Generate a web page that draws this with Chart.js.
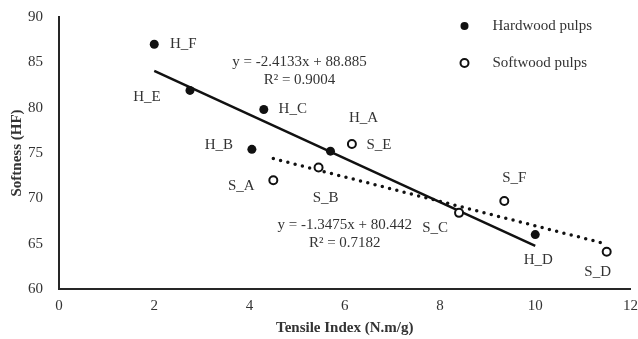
<!DOCTYPE html>
<html>
<head>
<meta charset="utf-8">
<script src="https://cdn.jsdelivr.net/npm/chart.js@4.4.1/dist/chart.umd.min.js"></script>
<style>
  body { margin: 0; background: #fff; }
  #wrap { width: 638px; height: 339px; }
</style>
</head>
<body>
<div id="wrap"><canvas id="chart"></canvas></div>
<script>
// hardwood pulps
const hardLabels = ['H_F', 'H_E', 'H_C', 'H_B', 'H_A', 'H_D'];
const hardTensile = [2.0, 2.75, 4.3, 4.05, 5.7, 10.0];
const hardSoftness = [87.0, 81.9, 79.8, 75.4, 75.2, 66.0];

// softwood pulps
const softLabels = ['S_A', 'S_B', 'S_C', 'S_D', 'S_E', 'S_F'];
const softTensile = [4.5, 5.45, 8.4, 11.5, 6.15, 9.35];
const softSoftness = [72.0, 73.4, 68.4, 64.1, 76.0, 69.7];

// trend lines (end points of the fitted lines)
const hardTrendX = [2, 10];
const hardTrendY = [84.06, 64.75];
const softTrendX = [4.5, 11.5];
const softTrendY = [74.38, 64.95];

const hardEquation = ['y = -2.4133x + 88.885', 'R\u00b2 = 0.9004'];
const softEquation = ['y = -1.3475x + 80.442', 'R\u00b2 = 0.7182'];

const xTickStep = 2;
const yTickStep = 5;

// label offsets in px from each point
const hardLabelOffsets = [[29, 0], [-43, 7], [29, 0], [-33, -4], [33, -33], [3, 25]];
const softLabelOffsets = [[-32, 6], [7, 31], [-24, 15], [-9, 20], [27, 1], [10, -23]];

const FONT = "'Liberation Serif', 'Times New Roman', serif";
const TEXT = '#333';

const toPoints = (xs, ys) => xs.map((x, i) => ({ x: x, y: ys[i] }));

const textPlugin = {
    id: 'texts',
    afterDatasetsDraw(chart) {
        const ctx = chart.ctx;
        const xs = chart.scales.x, ys = chart.scales.y;
        ctx.save();
        ctx.font = '15px ' + FONT;
        ctx.fillStyle = TEXT;
        ctx.textAlign = 'center';
        ctx.textBaseline = 'middle';

        // point labels
        const drawLabels = (labels, tx, ty, offs) => {
            labels.forEach((lab, i) => {
                const px = xs.getPixelForValue(tx[i]);
                const py = ys.getPixelForValue(ty[i]);
                ctx.fillText(lab, px + offs[i][0], py + offs[i][1]);
            });
        };
        drawLabels(hardLabels, hardTensile, hardSoftness, hardLabelOffsets);
        drawLabels(softLabels, softTensile, softSoftness, softLabelOffsets);

        // equations
        const drawEq = (lines, x, y) => {
            const px = xs.getPixelForValue(x);
            const py = ys.getPixelForValue(y);
            lines.forEach((l, i) => ctx.fillText(l, px, py + i * 18));
        };
        drawEq(hardEquation, 5.05, 85.0);
        drawEq(softEquation, 6.0, 67.0);

        // legend
        const lx = chart.chartArea.right - 166;
        const rows = [
            { label: 'Hardwood pulps', y: 26, filled: true },
            { label: 'Softwood pulps', y: 63, filled: false }
        ];
        ctx.textAlign = 'left';
        rows.forEach(r => {
            ctx.beginPath();
            ctx.arc(lx, r.y, 4, 0, Math.PI * 2);
            if (r.filled) {
                ctx.fillStyle = '#111';
                ctx.fill();
            } else {
                ctx.fillStyle = '#fff';
                ctx.fill();
                ctx.lineWidth = 2;
                ctx.strokeStyle = '#111';
                ctx.stroke();
            }
            ctx.fillStyle = TEXT;
            ctx.fillText(r.label, lx + 28, r.y);
        });
        ctx.restore();
    }
};

const ctx = document.getElementById('chart').getContext('2d');
new Chart(ctx, {
    type: 'scatter',
    data: {
        datasets: [
            {
                label: 'Hardwood pulps',
                data: toPoints(hardTensile, hardSoftness),
                pointRadius: 4.5,
                pointBackgroundColor: '#111',
                pointBorderColor: '#111',
                pointBorderWidth: 0,
                order: 0
            },
            {
                label: 'Softwood pulps',
                data: toPoints(softTensile, softSoftness),
                pointRadius: 4,
                pointBackgroundColor: '#fff',
                pointBorderColor: '#111',
                pointBorderWidth: 2,
                order: 0
            },
            {
                type: 'line',
                label: 'Hardwood trend',
                data: toPoints(hardTrendX, hardTrendY),
                borderColor: '#111',
                borderWidth: 2.5,
                pointRadius: 0,
                fill: false,
                order: 1
            },
            {
                type: 'line',
                label: 'Softwood trend',
                data: toPoints(softTrendX, softTrendY),
                borderColor: '#111',
                borderWidth: 3.5,
                borderDash: [0, 7.5],
                borderCapStyle: 'round',
                pointRadius: 0,
                fill: false,
                order: 1
            }
        ]
    },
    options: {
        responsive: true,
        maintainAspectRatio: false,
        animation: false,
        events: [],
        layout: { padding: { left: 8, right: 2, top: 17, bottom: 2 } },
        plugins: {
            legend: { display: false },
            tooltip: { enabled: false }
        },
        scales: {
            x: {
                type: 'linear',
                min: 0,
                max: 12,
                ticks: { stepSize: xTickStep, color: TEXT, font: { family: FONT, size: 15 }, padding: 0 },
                grid: { display: false },
                border: { display: true, color: '#262626', width: 2 },
                title: {
                    display: true,
                    text: 'Tensile Index (N.m/g)',
                    color: TEXT,
                    font: { family: FONT, size: 15, weight: 'bold' },
                    padding: { top: 4, bottom: 0 }
                },
                afterFit(scale) { scale.height = 48; }
            },
            y: {
                min: 60,
                max: 90,
                ticks: { stepSize: yTickStep, color: TEXT, font: { family: FONT, size: 15 }, padding: 8 },
                grid: { display: false },
                border: { display: true, color: '#262626', width: 2 },
                title: {
                    display: true,
                    text: 'Softness (HF)',
                    color: TEXT,
                    font: { family: FONT, size: 15, weight: 'bold' },
                    padding: 0
                },
                afterFit(scale) { scale.width = 51; }
            }
        }
    },
    plugins: [textPlugin]
});
</script>
</body>
</html>
